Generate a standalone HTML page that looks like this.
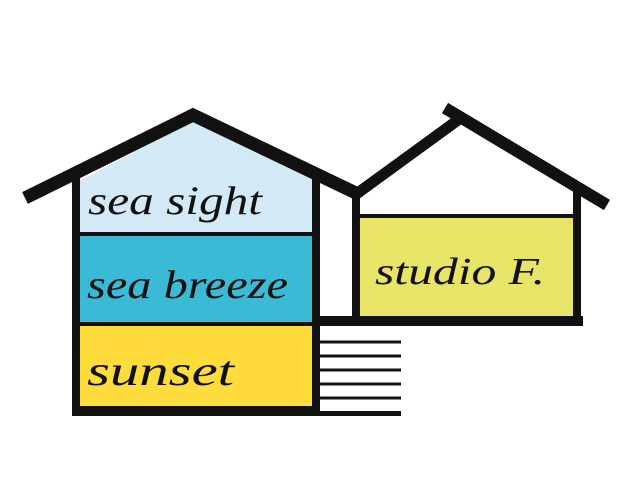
<!DOCTYPE html>
<html><head><style>
html,body{margin:0;padding:0;background:#fff;width:640px;height:480px;overflow:hidden}
svg text{font-family:"Liberation Serif",serif;font-style:italic;fill:#111}
</style></head><body>
<svg width="640" height="480" viewBox="0 0 640 480" xmlns="http://www.w3.org/2000/svg">
<polygon points="78,182 193,120 315,180 313,233 80,233" fill="#d3e9f5"/>
<rect x="80" y="236" width="233" height="86" fill="#3bbad5"/>
<rect x="80" y="326" width="233" height="80" fill="#fddc3c"/>
<rect x="80" y="232" width="233" height="4" fill="#111"/>
<rect x="80" y="322" width="233" height="4" fill="#111"/>
<rect x="72" y="178" width="8" height="238" fill="#111"/>
<rect x="312" y="176" width="8" height="240" fill="#111"/>
<rect x="72" y="406" width="248" height="10" fill="#111"/>
<rect x="360" y="218" width="213" height="98" fill="#e8e467"/>
<rect x="360" y="214" width="213" height="4" fill="#111"/>
<rect x="352" y="188" width="8" height="136" fill="#111"/>
<rect x="573" y="188" width="8" height="138" fill="#111"/>
<rect x="320" y="316" width="263" height="10" fill="#111"/>
<polyline points="25,198 193,115 358,194" fill="none" stroke="#111" stroke-width="13" stroke-linejoin="miter"/>
<line x1="355" y1="195" x2="458" y2="120" stroke="#111" stroke-width="11"/>
<line x1="445" y1="108" x2="607" y2="205" stroke="#111" stroke-width="12"/>
<g stroke="#111" stroke-width="3">
<line x1="320" y1="342" x2="401" y2="342"/>
<line x1="320" y1="356" x2="401" y2="356"/>
<line x1="320" y1="370" x2="401" y2="370"/>
<line x1="320" y1="384" x2="401" y2="384"/>
<line x1="320" y1="398" x2="401" y2="398"/>
</g>
<rect x="320" y="411" width="81" height="5" fill="#111"/>
<text x="88" y="214" font-size="40" textLength="174" lengthAdjust="spacingAndGlyphs">sea sight</text>
<text x="87" y="298" font-size="40" textLength="201" lengthAdjust="spacingAndGlyphs">sea breeze</text>
<text x="87" y="385" font-size="42" textLength="147" lengthAdjust="spacingAndGlyphs">sunset</text>
<text x="375" y="284" font-size="38" textLength="170" lengthAdjust="spacingAndGlyphs">studio F.</text>
</svg>
</body></html>
